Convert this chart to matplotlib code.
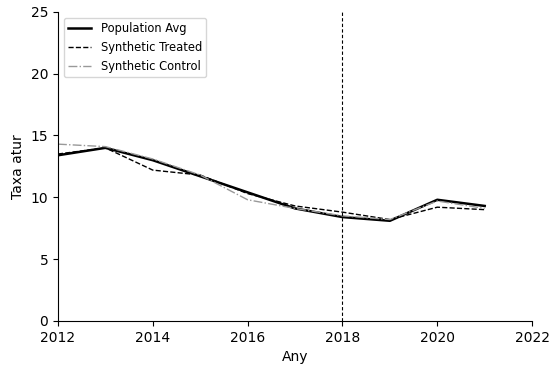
import matplotlib
matplotlib.use('Agg')
import matplotlib.pyplot as plt

years = [2012, 2013, 2014, 2015, 2016, 2017, 2018, 2019, 2020, 2021]
pop_avg = [13.4, 14.0, 13.0, 11.7, 10.4, 9.1, 8.4, 8.1, 9.8, 9.3]
synth_treated = [13.5, 14.0, 12.2, 11.8, 10.3, 9.3, 8.8, 8.2, 9.2, 9.0]
synth_control = [14.3, 14.1, 13.1, 11.8, 9.8, 9.1, 8.5, 8.2, 9.7, 9.1]
treat_year = 2018

fig = plt.figure(figsize=(5.52, 3.71), dpi=100)
ax = fig.add_axes([0.105, 0.135, 0.859, 0.833])

ax.plot(years, pop_avg, color='black', lw=1.8, label='Population Avg')
ax.plot(years, synth_treated, color='black', lw=1.0, ls='--', label='Synthetic Treated')
ax.plot(years, synth_control, color='#999999', lw=1.0, ls='-.', label='Synthetic Control')
ax.axvline(treat_year, color='black', lw=0.8, ls=(0, (3, 2)))

ax.set_xlim(2012, 2022)
ax.set_ylim(0, 25)
ax.set_xticks([2012, 2014, 2016, 2018, 2020, 2022])
ax.set_yticks([0, 5, 10, 15, 20, 25])
ax.tick_params(labelsize=10)
ax.set_xlabel('Any', fontsize=10)
ax.set_ylabel('Taxa atur', fontsize=10)
ax.spines['top'].set_visible(False)
ax.spines['right'].set_visible(False)
ax.legend(loc='upper left', fontsize=8.3)

fig.savefig('out.png', dpi=100)
